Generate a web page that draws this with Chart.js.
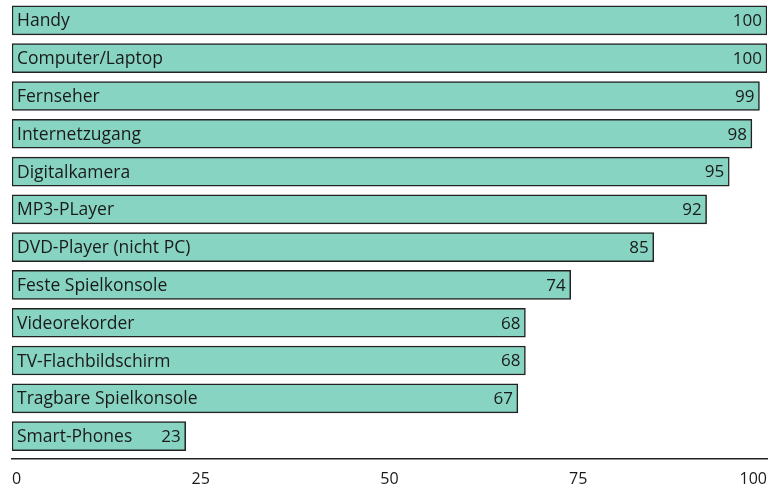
<!DOCTYPE html>
<html>
<head>
<meta charset="utf-8">
<script src="https://cdn.jsdelivr.net/npm/chart.js@4.4.1/dist/chart.umd.min.js"></script>
<style>
  html, body { margin: 0; padding: 0; background: #fff; }
  #wrap { width: 769px; height: 489px; }
</style>
</head>
<body>
<div id="wrap"><canvas id="barchart"></canvas></div>
<script>
"use strict";

/*----------------------------------------*/
/*  data
/*----------------------------------------*/
var categories = ["Handy", "Computer/Laptop", "Fernseher", "Internetzugang", "Digitalkamera",
	"MP3-PLayer", "DVD-Player (nicht PC)", "Feste Spielkonsole", "Videorekorder",
	"TV-Flachbildschirm", "Tragbare Spielkonsole", "Smart-Phones"];
var values = [100, 100, 99, 98, 95, 92, 85, 74, 68, 68, 67, 23];
var xTicks = [0, 25, 50, 75, 100];

var FONT = '"Open Sans", "Noto Sans", sans-serif';

/*----------------------------------------*/
/*  labels inside the bars
/*----------------------------------------*/
var barLabels = {
	id: 'barLabels',
	afterLayout: function (chart) {
		// small gap between the last bar row and the axis line
		var y = chart.scales.y;
		y.bottom = y.bottom - 4;
		y.height = y.bottom - y.top;
		y.configure();
	},
	afterDatasetsDraw: function (chart) {
		var ctx = chart.ctx;
		var meta = chart.getDatasetMeta(0);
		ctx.save();
		ctx.fillStyle = '#1a1a1a';
		ctx.textBaseline = 'middle';
		meta.data.forEach(function (bar, i) {
			ctx.font = '17.5px ' + FONT;
			ctx.textAlign = 'left';
			ctx.fillText(categories[i], bar.base + 5, bar.y + 1);
			ctx.font = '17px ' + FONT;
			ctx.textAlign = 'right';
			ctx.fillText(String(values[i]), bar.x - 5, bar.y + 1);
		});
		ctx.restore();
	}
};

var ctx = document.getElementById("barchart");
var barchart = new Chart(ctx, {
	type: 'bar',
	data: {
		labels: categories,
		datasets: [{
			data: values,
			backgroundColor: '#87d4c2',
			borderColor: '#222222',
			borderWidth: 1.5,
			borderSkipped: false,
			barThickness: 29
		}]
	},
	options: {
		indexAxis: 'y',
		responsive: true,
		maintainAspectRatio: false,
		animation: false,
		layout: {
			padding: { left: 12, right: 2, top: 1.5, bottom: 0 }
		},
		plugins: {
			legend: { display: false },
			title: { display: false },
			tooltip: { enabled: false }
		},
		scales: {
			x: {
				min: 0,
				max: 100,
				afterBuildTicks: function (scale) {
					scale.ticks = xTicks.map(function (v) { return { value: v }; });
				},
				afterFit: function (scale) {
					scale.height = 30;
					scale.paddingLeft = 0;
					scale.paddingRight = 0;
				},
				grid: { display: false, drawTicks: false },
				border: { display: true, color: '#222222', width: 1.5 },
				ticks: {
					align: 'inner',
					padding: 11,
					color: '#1a1a1a',
					font: { family: FONT, size: 16 }
				}
			},
			y: {
				display: false
			}
		}
	},
	plugins: [barLabels]
});
</script>
</body>
</html>
